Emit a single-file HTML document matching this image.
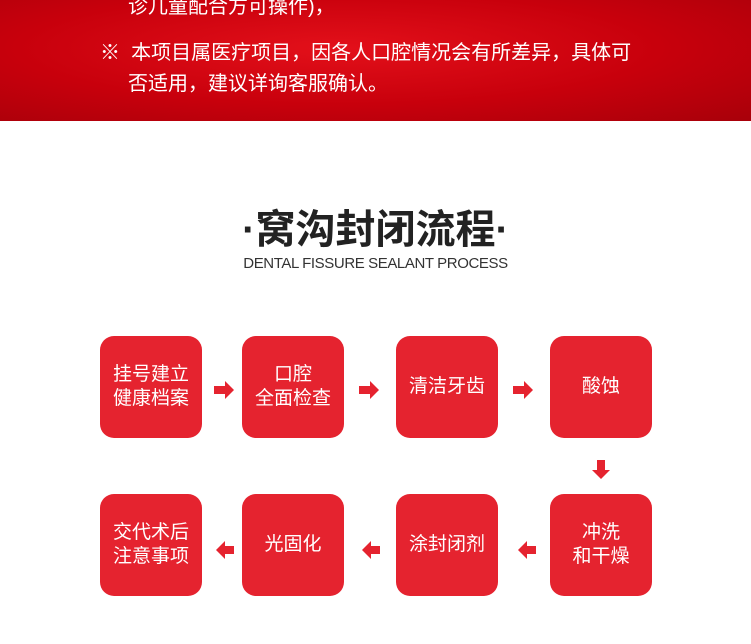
<!DOCTYPE html>
<html><head><meta charset="utf-8"><style>
body{margin:0;width:751px;height:644px;background:#fff;position:relative;overflow:hidden;font-family:"Liberation Sans","Noto Sans CJK SC",sans-serif}
.ban{position:absolute;left:0;top:0;width:751px;height:121px;background:radial-gradient(ellipse at 45% 40%,#e3101a 0%,#c8000c 55%,#a8000a 100%);}
.bt{position:absolute;color:#fff;font-size:20px;white-space:nowrap}
.box{position:absolute;width:102px;height:102px;border-radius:14px;background:#e5232f;color:#fff;font-size:19px;line-height:24px;display:flex;align-items:center;justify-content:center;text-align:center}
</style></head><body>
<div class="ban"></div>
<div class="bt" style="left:128px;top:-10px">诊儿童配合方可操作)，</div>
<div class="bt" style="left:100px;top:36px">※&nbsp;&nbsp;本项目属医疗项目，因各人口腔情况会有所差异，具体可</div>
<div class="bt" style="left:128px;top:67px">否适用，建议详询客服确认。</div>
<div style="position:absolute;left:0;width:751px;top:197px;text-align:center;font-size:40px;font-weight:bold;color:#222;white-space:nowrap">·窝沟封闭流程·</div>
<div style="position:absolute;left:0;width:751px;top:255px;text-align:center;font-size:15px;letter-spacing:-0.4px;color:#333">DENTAL FISSURE SEALANT PROCESS</div>
<div class="box" style="left:100px;top:336px">挂号建立<br>健康档案</div>
<div class="box" style="left:242px;top:336px">口腔<br>全面检查</div>
<div class="box" style="left:396px;top:336px">清洁牙齿</div>
<div class="box" style="left:550px;top:336px">酸蚀</div>
<div class="box" style="left:100px;top:494px">交代术后<br>注意事项</div>
<div class="box" style="left:242px;top:494px">光固化</div>
<div class="box" style="left:396px;top:494px">涂封闭剂</div>
<div class="box" style="left:550px;top:494px">冲洗<br>和干燥</div>
<svg width="751" height="644" style="position:absolute;left:0;top:0">
<g fill="#e5232f">
<polygon points="214,386 225,386 225,381 234,390 225,399 225,394 214,394"/>
<polygon points="359,386 370,386 370,381 379,390 370,399 370,394 359,394"/>
<polygon points="513,386 524,386 524,381 533,390 524,399 524,394 513,394"/>
<polygon points="597,460 605,460 605,470 610,470 601,479 592,470 597,470"/>
<polygon points="536,546 527,546 527,541 518,550 527,559 527,554 536,554"/>
<polygon points="380,546 371,546 371,541 362,550 371,559 371,554 380,554"/>
<polygon points="234,546 225,546 225,541 216,550 225,559 225,554 234,554"/>
</g></svg>
</body></html>
